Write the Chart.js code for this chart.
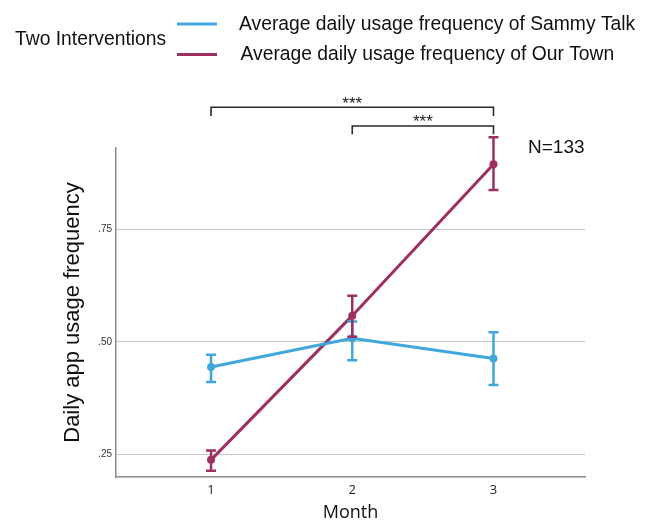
<!DOCTYPE html>
<html>
<head>
<meta charset="utf-8">
<script src="https://cdn.jsdelivr.net/npm/chart.js@4"></script>
<style>
  html, body { margin: 0; padding: 0; background: #ffffff; }
  #wrap { width: 652px; height: 520px; position: relative; }
</style>
</head>
<body>
<div id="wrap"><canvas id="c" width="652" height="520"></canvas></div>
<script>
// ---- Data ----
const months = [1, 2, 3];
const monthTickLabels = ['1', '2', '3'];
const yTickValues = [0.25, 0.50, 0.75];
const yTickLabels = ['.25', '.50', '.75'];

const seriesNames = ['Average daily usage frequency of Sammy Talk', 'Average daily usage frequency of Our Town'];
const sammyMean = [0.444, 0.508, 0.463];
const sammyLow  = [0.411, 0.459, 0.404];
const sammyHigh = [0.471, 0.545, 0.521];
const townMean  = [0.238, 0.558, 0.894];
const townLow   = [0.214, 0.511, 0.837];
const townHigh  = [0.259, 0.602, 0.954];

const legendTitle = 'Two Interventions';
const nLabel = 'N=133';
const sigBrackets = [
  { from: 1, to: 3, label: '***' },
  { from: 2, to: 3, label: '***' }
];

const BLUE = 'rgb(64,167,221)';
const PURPLE = 'rgb(157,48,96)';
const SANS = '"Liberation Sans", Arial, Helvetica, sans-serif';
const HUMAN = '"Open Sans", "Noto Sans", sans-serif';

const toXY = (vals) => months.map((m, i) => ({ x: m, y: vals[i] }));

const errorBarPlugin = {
  id: 'errorBars',
  afterDatasetsDraw(chart) {
    const { ctx, scales: { x, y } } = chart;
    const sets = [
      { low: sammyLow, high: sammyHigh, color: BLUE },
      { low: townLow, high: townHigh, color: PURPLE }
    ];
    ctx.save();
    sets.forEach(s => {
      ctx.strokeStyle = s.color;
      ctx.lineWidth = 2.5;
      months.forEach((m, i) => {
        const px = x.getPixelForValue(m);
        const y1 = y.getPixelForValue(s.low[i]);
        const y2 = y.getPixelForValue(s.high[i]);
        ctx.beginPath();
        ctx.moveTo(px, y1); ctx.lineTo(px, y2);
        ctx.moveTo(px - 5, y1); ctx.lineTo(px + 5, y1);
        ctx.moveTo(px - 5, y2); ctx.lineTo(px + 5, y2);
        ctx.stroke();
      });
    });
    ctx.restore();
  }
};

const annotationPlugin = {
  id: 'annotations',
  afterDraw(chart) {
    const { ctx, chartArea, scales: { x } } = chart;
    const top = chartArea.top;
    ctx.save();
    // significance brackets
    const levels = [
      { line: top - 40.7, drop: top - 32, text: top - 49 },
      { line: top - 22, drop: top - 13.7, text: top - 30.5 }
    ];
    sigBrackets.forEach((b, i) => {
      const lv = levels[i];
      const x1 = x.getPixelForValue(b.from);
      const x2 = x.getPixelForValue(b.to);
      ctx.strokeStyle = '#2a2a2a';
      ctx.lineWidth = 1.6;
      ctx.beginPath();
      ctx.moveTo(x1, lv.drop); ctx.lineTo(x1, lv.line); ctx.lineTo(x2, lv.line); ctx.lineTo(x2, lv.drop);
      ctx.stroke();
      ctx.fillStyle = '#222';
      ctx.font = '17px ' + SANS;
      ctx.textAlign = 'center';
      ctx.textBaseline = 'alphabetic';
      ctx.fillText(b.label, (x1 + x2) / 2, lv.text + 9.5);
    });
    // N label
    ctx.fillStyle = '#111';
    ctx.font = '19px ' + SANS;
    ctx.textAlign = 'left';
    ctx.textBaseline = 'middle';
    ctx.fillText(nLabel, 528, 148);

    // legend
    ctx.font = '19.3px ' + SANS;
    ctx.fillStyle = '#111';
    ctx.textBaseline = 'middle';
    ctx.fillText(legendTitle, 15, 40);
    const cols = [BLUE, PURPLE];
    const ys = [24, 54.5];
    seriesNames.forEach((name, i) => {
      ctx.strokeStyle = cols[i];
      ctx.lineWidth = 3;
      ctx.beginPath();
      ctx.moveTo(177, ys[i]); ctx.lineTo(217, ys[i]);
      ctx.stroke();
      ctx.fillStyle = '#111';
      ctx.fillText(name, 239 + 1.5 * i, ys[i] + 0.5);
    });
    ctx.restore();
  }
};

new Chart(document.getElementById('c'), {
  type: 'line',
  data: {
    datasets: [
      {
        label: seriesNames[0],
        data: toXY(sammyMean),
        borderColor: BLUE,
        backgroundColor: BLUE,
        borderWidth: 3,
        pointRadius: 4,
        pointHoverRadius: 4,
        pointBorderWidth: 0,
        tension: 0
      },
      {
        label: seriesNames[1],
        data: toXY(townMean),
        borderColor: PURPLE,
        backgroundColor: PURPLE,
        borderWidth: 3,
        pointRadius: 4,
        pointHoverRadius: 4,
        pointBorderWidth: 0,
        tension: 0
      }
    ]
  },
  options: {
    responsive: false,
    animation: false,
    devicePixelRatio: 1,
    layout: { padding: { left: 0, right: 67, top: 148, bottom: 0 } },
    plugins: {
      legend: { display: false },
      tooltip: { enabled: false },
      title: { display: false }
    },
    scales: {
      x: {
        type: 'linear',
        min: 0.327,
        max: 3.648,
        afterBuildTicks: (s) => { s.ticks = months.map(v => ({ value: v })); },
        afterFit: (s) => { s.height = 43; },
        grid: { display: false, drawTicks: false },
        border: { display: true, color: '#8a8a8a', width: 1.5 },
        ticks: {
          padding: 5,
          color: '#222',
          font: { family: HUMAN, size: 13 },
          callback: (v) => monthTickLabels[months.indexOf(v)] ?? ''
        },
        title: {
          display: true,
          text: 'Month',
          color: '#111',
          font: { family: HUMAN, size: 18, lineHeight: 1 },
          padding: { top: 0, bottom: -2 }
        }
      },
      y: {
        min: 0.2,
        max: 0.93,
        afterBuildTicks: (s) => { s.ticks = yTickValues.map(v => ({ value: v })); },
        afterFit: (s) => { s.width = 116; },
        grid: { color: '#c4c4c4', lineWidth: 1, drawTicks: false },
        border: { display: true, color: '#8a8a8a', width: 1.5 },
        ticks: {
          padding: 4,
          color: '#333',
          font: { family: SANS, size: 10 },
          callback: (v) => yTickLabels[yTickValues.indexOf(v)] ?? ''
        },
        title: {
          display: true,
          text: 'Daily app usage frequency',
          color: '#111',
          font: { family: SANS, size: 22, lineHeight: 1 },
          padding: { top: 62, bottom: 0 }
        }
      }
    }
  },
  plugins: [errorBarPlugin, annotationPlugin]
});
</script>
</body>
</html>
